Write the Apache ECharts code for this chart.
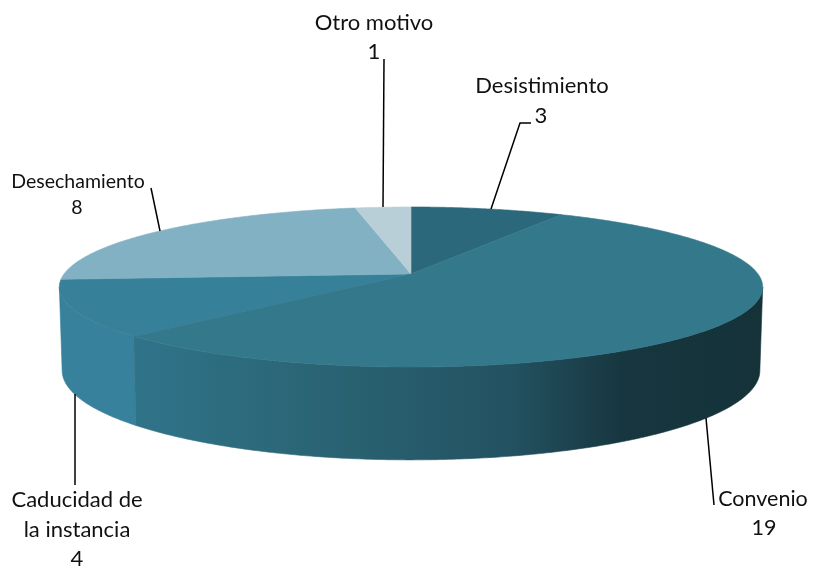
<!DOCTYPE html>
<html>
<head>
<meta charset="utf-8">
<style>html,body{margin:0;padding:0;background:#fff}#c{width:813px;height:569px}</style>
<script src="https://cdn.jsdelivr.net/npm/echarts@6/dist/echarts.min.js"></script>
</head>
<body>
<div id="c"></div>
<script>
var categories = ['Desistimiento', 'Convenio', 'Caducidad de la instancia', 'Desechamiento', 'Otro motivo'];
var values = [3, 19, 4, 8, 1];

var topColors = ['#2c687b', '#34788b', '#37809a', '#82b1c3', '#b8cfd8'];
var sideFills = [
  '#1d4754',
  {type:'linear', x:133, y:0, x2:763, y2:0, global:true, colorStops:[
    {offset:0,color:'#30748a'},{offset:0.3,color:'#2a6474'},{offset:0.6,color:'#235261'},{offset:0.78,color:'#17363f'},{offset:1,color:'#153239'}]},
  '#37819c', '#5a93a8', '#8fb0bd'
];
var labelLayout = [
  {lines:[['Desistimiento',542,86],['3',541,116]], size:22, line:[[531,123],[520,123],[491,209]]},
  {lines:[['Convenio',763,499],['19',764,528]], size:21.5, line:[[706,418],[714,505]]},
  {lines:[['Caducidad de',77,500],['la instancia',77,530],['4',77,559]], size:22, line:[[75,394],[75,485]]},
  {lines:[['Desechamiento',78,182],['8',77,208]], size:19.5, line:[[151,188],[160,231]]},
  {lines:[['Otro motivo',374,23],['1',374,52]], size:22, line:[[384,59],[383,207]]}
];

// pie projection
var CX = 411, CY = 274, R = 347, A = 77.9, K = 0.1625;
var LOWER_A = 87, LOWER_D = 82, LOWER_R = 0.992, WARP = 0.022;
function warp(theta) {
  return theta - WARP * Math.max(0, Math.min(1, theta / 0.3, (2 * Math.PI - theta) / 0.5));
}
function proj(theta, drop) {
  var u = Math.sin(theta), v = -Math.cos(theta), s = 1 / (1 - K * v);
  return drop
    ? [CX + R * u * s * LOWER_R, CY + LOWER_A * v * s + LOWER_D]
    : [CX + R * u * s, CY + A * v * s];
}
var total = values.reduce(function (a, b) { return a + b; }, 0);
var FRONT0 = Math.acos(-K), FRONT1 = 2 * Math.PI - FRONT0;

function arc(a0, a1, drop) {
  var pts = [], n = Math.max(2, Math.ceil((a1 - a0) / 0.01));
  for (var i = 0; i <= n; i++) pts.push(proj(a0 + (a1 - a0) * i / n, drop));
  return pts;
}

function renderItem(params, api) {
  var i = params.dataIndex, before = 0;
  for (var j = 0; j < i; j++) before += values[j];
  var a0 = warp(before / total * 2 * Math.PI);
  var a1 = i === values.length - 1 ? 2 * Math.PI : warp((before + api.value(0)) / total * 2 * Math.PI);
  var children = [];
  var s0 = Math.max(a0, FRONT0), s1 = Math.min(a1, FRONT1);
  if (s1 > s0) {
    children.push({
      type: 'polygon', z2: i === 1 ? 2 : 1, silent: true,
      shape: {points: arc(s0, s1, false).concat(arc(s0, s1, true).reverse())},
      style: {fill: sideFills[i], stroke: sideFills[i], lineWidth: 0.6}
    });
  }
  children.push({
    type: 'polygon', z2: 3 + (i === 1 ? 1 : 0),
    shape: {points: [[CX, CY]].concat(arc(a0, a1, false))},
    style: {fill: topColors[i], stroke: topColors[i], lineWidth: 0.6}
  });
  var lay = labelLayout[i];
  children.push({type: 'polyline', z2: 5, shape: {points: lay.line}, style: {fill: 'none', stroke: '#000', lineWidth: 1.5}});
  lay.lines.forEach(function (l) {
    children.push({type: 'text', z2: 6, x: l[1], y: l[2],
      style: {text: l[0], x: 0, y: 0, align: 'center', verticalAlign: 'middle', fill: '#111', font: lay.size + 'px Lato'}});
  });
  return {type: 'group', children: children};
}

var chart = echarts.init(document.getElementById('c'));
chart.setOption({
  animation: false,
  backgroundColor: '#fff',
  series: [{
    type: 'custom',
    coordinateSystem: 'none',
    renderItem: renderItem,
    data: categories.map(function (c, i) { return {name: c, value: [values[i]]}; })
  }]
});
</script>
</body>
</html>
